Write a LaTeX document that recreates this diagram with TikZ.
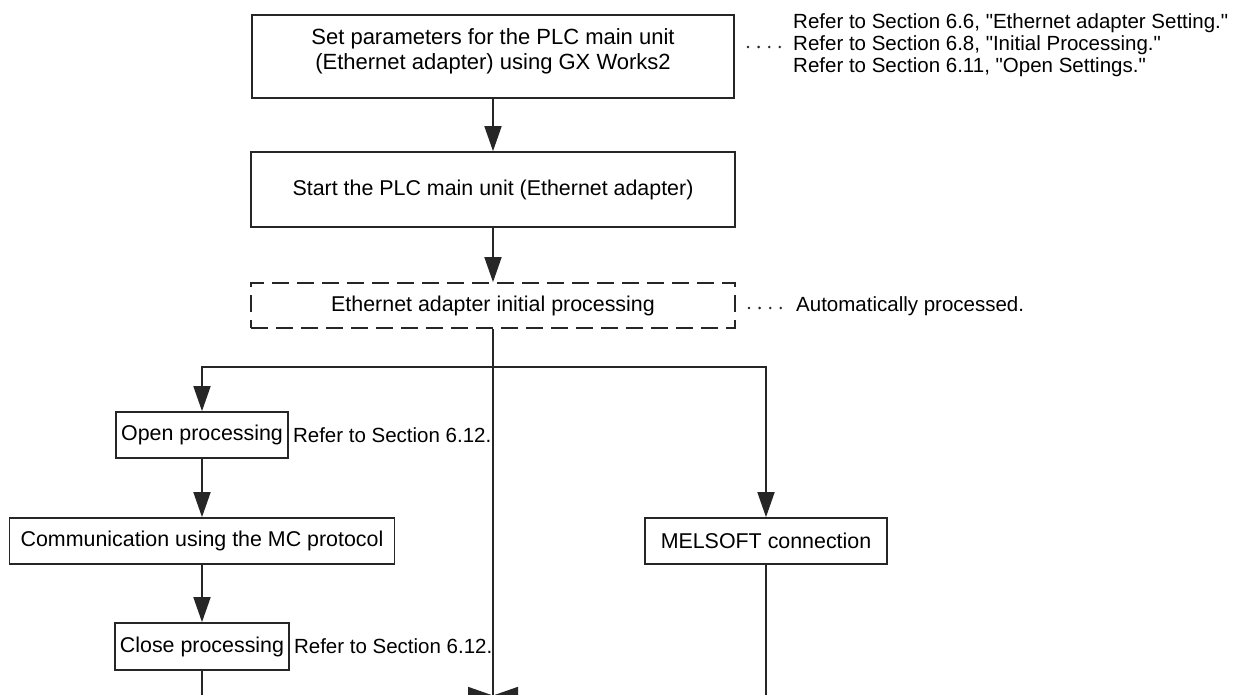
\documentclass[tikz,border=0pt]{standalone}
\usepackage{fontspec}
\setmainfont{Liberation Sans}[Ligatures=TeXOff]
\usetikzlibrary{arrows.meta}
\begin{document}
\begin{tikzpicture}[x=1pt,y=-1pt,
  box/.style={draw=black!85, line width=1.7pt, inner sep=0pt, align=center,
    font=\fontsize{21.4}{24.5}\selectfont},
  dbox/.style={box, dash pattern=on 17pt off 8pt},
  txt/.style={inner sep=0pt, align=center, font=\fontsize{22}{24.5}\selectfont},
  ann/.style={inner sep=0pt, align=left, font=\fontsize{20.5}{21.8}\selectfont},
  conn/.style={draw=black!85, line width=1.7pt},
  arr/.style={conn, -{Triangle[length=25pt,width=17pt]}},
  leader/.style={draw=black!85, line width=2.8pt, line cap=round, dash pattern=on 0pt off 10.6pt}]
\useasboundingbox (0,0) rectangle (1238,695);
\fill[white] (0,0) rectangle (1238,695);
\clip (0,0) rectangle (1238,695);

% main column
\node[box, minimum width=482pt, minimum height=83pt] (set) at (493,56.5) {};
\node[txt] (settext) at (493,51.5)
  {Set parameters for the PLC main unit\\(Ethernet adapter) using GX Works2};
\node[box, minimum width=484pt, minimum height=75pt] (start) at (493,189.5)
  {Start the PLC main unit (Ethernet adapter)};
\node[dbox, minimum width=484pt, minimum height=45pt] (init) at (493,305.5)
  {Ethernet adapter initial processing};

% left column
\node[box, minimum width=172pt, minimum height=46pt] (open) at (202,435) {Open processing};
\node[box, minimum width=385pt, minimum height=46pt] (comm) at (202,541) {Communication using the MC protocol};
\node[box, minimum width=174pt, minimum height=47pt] (close) at (202,646.5) {Close processing};

% right column
\node[box, minimum width=242pt, minimum height=46pt] (mel) at (766,541) {MELSOFT connection};

% annotations
\node[ann, anchor=west] (refa) at (793,45)
  {Refer to Section 6.6, "Ethernet adapter Setting."\\
   Refer to Section 6.8, "Initial Processing."\\
   Refer to Section 6.11, "Open Settings."};
\coordinate (la1) at (748,47);
\coordinate (la2) at (781,47);
\draw[leader] (la1) -- (la2);

\node[ann, anchor=west] (auto) at (796,306) {Automatically processed.};
\coordinate (lb1) at (749,308);
\coordinate (lb2) at (782,308);
\draw[leader] (lb1) -- (lb2);

\node[ann, anchor=west, inner xsep=4pt] (refo) at (open.east) {Refer to Section 6.12.};
\node[ann, anchor=west, inner xsep=4pt] (refc) at (close.east) {Refer to Section 6.12.};

% connectors
\coordinate (split) at (493,367);
\coordinate (merge) at (493,695.5);
\coordinate (bottom) at (493,720);
\draw[arr] (set.south) -- (start.north);
\draw[arr] (start.south) -- (init.north);
\draw[conn] (init.south) -- (bottom);
\draw[arr] (split) -| (open.north);
\draw[arr] (split) -| (mel.north);
\draw[arr] (open.south) -- (comm.north);
\draw[arr] (comm.south) -- (close.north);
\draw[arr] (close.south) |- (merge);
\draw[arr] (mel.south) |- (merge);
\end{tikzpicture}
\end{document}
